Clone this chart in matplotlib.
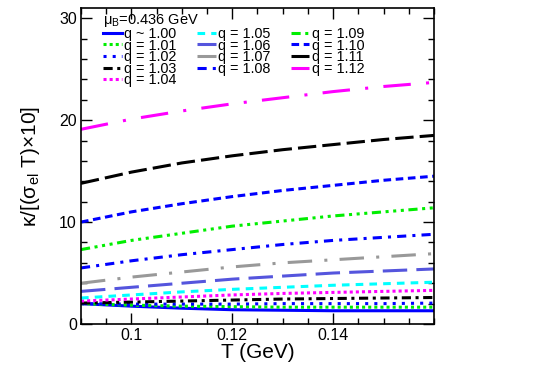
import matplotlib
matplotlib.use("Agg")
import matplotlib.pyplot as plt
from matplotlib.ticker import MultipleLocator

plt.rcParams['font.family'] = ['Liberation Sans', 'DejaVu Sans']
plt.rcParams['mathtext.fontset'] = 'custom'
plt.rcParams['mathtext.rm'] = 'Liberation Sans'
plt.rcParams['mathtext.it'] = 'Liberation Sans:italic'

T = [0.09, 0.10, 0.11, 0.12, 0.13, 0.14, 0.15, 0.16]

labels = ["q ~ 1.00", "q = 1.01", "q = 1.02", "q = 1.03", "q = 1.04",
          "q = 1.05", "q = 1.06", "q = 1.07", "q = 1.08",
          "q = 1.09", "q = 1.10", "q = 1.11", "q = 1.12"]

k100 = [2.0, 1.75, 1.55, 1.4, 1.35, 1.3, 1.3, 1.3]
k101 = [2.0, 1.85, 1.75, 1.7, 1.65, 1.65, 1.65, 1.65]
k102 = [2.0, 1.95, 1.95, 1.95, 2.0, 2.0, 2.0, 2.05]
k103 = [2.05, 2.15, 2.25, 2.35, 2.45, 2.5, 2.55, 2.6]
k104 = [2.25, 2.45, 2.65, 2.85, 3.0, 3.1, 3.2, 3.3]
k105 = [2.55, 2.85, 3.15, 3.4, 3.6, 3.8, 3.95, 4.1]
k106 = [3.2, 3.6, 4.0, 4.4, 4.7, 5.0, 5.2, 5.4]
k107 = [4.0, 4.6, 5.1, 5.6, 6.0, 6.3, 6.6, 6.9]
k108 = [5.5, 6.2, 6.8, 7.3, 7.8, 8.2, 8.5, 8.8]
k109 = [7.3, 8.2, 8.9, 9.6, 10.1, 10.6, 11.0, 11.4]
k110 = [10.0, 11.0, 11.8, 12.5, 13.1, 13.6, 14.1, 14.5]
k111 = [13.8, 14.9, 15.8, 16.5, 17.1, 17.6, 18.1, 18.5]
k112 = [19.1, 20.1, 20.9, 21.6, 22.2, 22.8, 23.3, 23.7]

series = [k100, k101, k102, k103, k104, k105, k106, k107, k108, k109, k110, k111, k112]

colors = ["#0000ff", "#00ee00", "#0000ff", "#000000", "#ff00ff",
          "#00ffff", "#5555dd", "#999999", "#0000ff",
          "#00ee00", "#0000ff", "#000000", "#ff00ff"]
styles = ["-", (0, (1, 1)), (0, (1, 2)), (0, (3, 1.5, 1, 1.5)), (0, (1, 1)),
          (0, (2.5, 2)), (0, (8, 3)), (0, (8, 4, 1, 4)), (0, (3, 2, 1, 2)),
          (0, (3, 1.5, 1, 1.5, 1, 1.5, 1, 1.5)), (0, (2.5, 1.5)), (0, (6, 2)), (0, (9, 5, 1, 5))]

fig = plt.figure(figsize=(5.44, 3.83), dpi=100)
ax = fig.add_axes([81/544, 1-324/383, (434-81)/544, (324-8)/383])

for y, c, s, l in zip(series, colors, styles, labels):
    ax.plot(T, y, color=c, linestyle=s, linewidth=2.2, label=l)

ax.set_xlim(0.09, 0.16)
ax.set_ylim(0, 31)
ax.xaxis.set_major_locator(MultipleLocator(0.02))
ax.xaxis.set_minor_locator(MultipleLocator(0.005))
ax.yaxis.set_major_locator(MultipleLocator(10))
ax.yaxis.set_minor_locator(MultipleLocator(2))
ax.tick_params(which='both', direction='in', top=True, right=True, labelsize=11.5)
ax.tick_params(which='major', length=8, width=1, pad=3)
ax.tick_params(which='minor', length=4, width=1)
ax.set_xticks([0.1, 0.12, 0.14])
ax.set_xticklabels(["0.1", "0.12", "0.14"])
ax.set_yticks([0, 10, 20, 30])
for sp in ax.spines.values():
    sp.set_linewidth(1.2)

ax.set_xlabel("T (GeV)", fontsize=15)
ax.xaxis.set_label_coords(0.5, -0.06)
ax.set_ylabel(r"κ/[(σ$_{\rm el}$ T)×10]", fontsize=15)
ax.yaxis.set_label_coords(-0.11, 0.5)

ax.text(0.062, 0.948, r"μ$_{\rm B}$=0.436 GeV", transform=ax.transAxes,
        fontsize=10.5, va='baseline', ha='left')

leg = ax.legend(ncol=3, loc='upper left', bbox_to_anchor=(0.062, 0.94), frameon=False,
                fontsize=10.4, handlelength=1.3, handletextpad=0.15, columnspacing=1.42,
                labelspacing=-0.17, borderpad=0.0, borderaxespad=0.0)

fig.savefig("out.png", dpi=100)
